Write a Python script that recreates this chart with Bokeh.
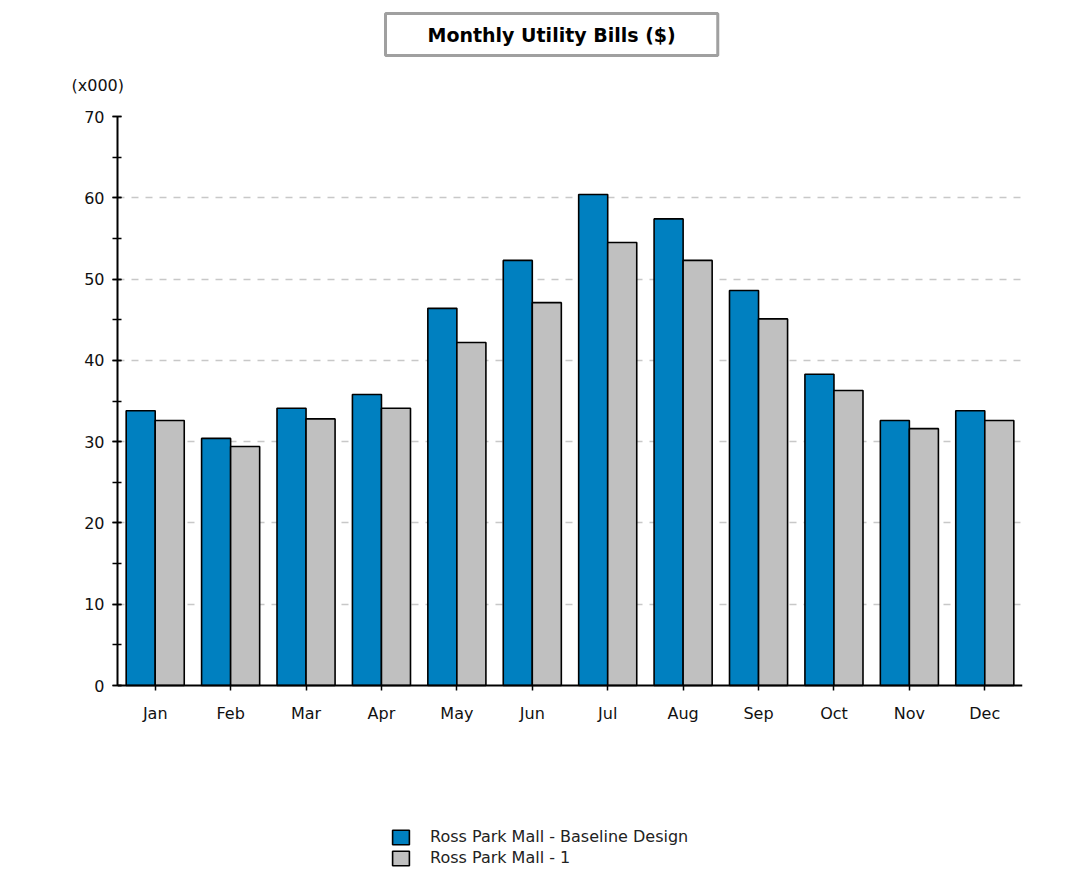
from bokeh.plotting import figure
from bokeh.models import (FactorRange, Range1d, SingleIntervalTicker, FixedTicker, Title,
                          Legend, LegendItem)
from bokeh.transform import dodge
from bokeh.embed import file_html
from bokeh.resources import INLINE

months = ["Jan", "Feb", "Mar", "Apr", "May", "Jun", "Jul", "Aug", "Sep", "Oct", "Nov", "Dec"]
baseline = [33.8, 30.4, 34.1, 35.8, 46.4, 52.3, 60.4, 57.4, 48.6, 38.3, 32.6, 33.8]
alt_1 = [32.6, 29.4, 32.8, 34.1, 42.2, 47.1, 54.5, 52.3, 45.1, 36.3, 31.6, 32.6]
series_names = ["Ross Park Mall - Baseline Design", "Ross Park Mall - 1"]
grid_values = [10, 20, 30, 40, 50, 60, 70]

FONT = "DejaVu Sans"
BLUE = "#0080C0"
GRAY = "#C0C0C0"

# the frame runs down to the bottom of the page so the legend can sit inside it;
# the value axis spans 0..70 over 569 px and the category axis is pinned at y = 0
Y_MAX = 70
PX_PER_UNIT = 569 / Y_MAX
Y_MIN = -186 / PX_PER_UNIT

p = figure(
    frame_width=905, frame_height=755,
    x_range=FactorRange(*months, range_padding=0),
    y_range=Range1d(Y_MIN, Y_MAX),
    output_backend="svg", toolbar_location=None,
    min_border_left=117, min_border_right=55,
    min_border_top=116, min_border_bottom=0,
)
p.outline_line_color = None
p.background_fill_color = "white"
p.border_fill_color = "white"

src = dict(month=months, baseline=baseline, alt=alt_1)
r1 = p.vbar(x=dodge("month", -0.1925, range=p.x_range), top="baseline", bottom=0, width=0.385,
            source=src, fill_color=BLUE, line_color="black", line_width=1.6)
r2 = p.vbar(x=dodge("month", 0.1925, range=p.x_range), top="alt", bottom=0, width=0.385,
            source=src, fill_color=GRAY, line_color="black", line_width=1.6)

# grid and axes
p.xgrid.grid_line_color = None
p.ygrid.grid_line_color = "#c8c8c8"
p.ygrid.grid_line_dash = "7 7"
p.ygrid.grid_line_width = 1.5
p.ygrid.ticker = FixedTicker(ticks=grid_values)
p.yaxis.ticker = SingleIntervalTicker(interval=10, num_minor_ticks=2)
p.yaxis.bounds = (0, Y_MAX)
p.xaxis.fixed_location = 0

for ax in (p.xaxis[0], p.yaxis[0]):
    ax.axis_line_color = "black"
    ax.axis_line_width = 2
    ax.major_tick_line_color = "black"
    ax.major_tick_line_width = 1.5
    ax.major_label_text_font = FONT
    ax.major_label_text_font_size = "16px"
    ax.major_label_text_color = "#111111"

p.yaxis.major_tick_out = 5
p.yaxis.major_tick_in = 4
p.yaxis.minor_tick_out = 5
p.yaxis.minor_tick_in = 4
p.yaxis.minor_tick_line_color = "black"
p.yaxis.minor_tick_line_width = 1.5
p.yaxis.major_label_standoff = 8

p.xaxis.major_tick_out = 5
p.xaxis.major_tick_in = 0
p.xaxis.major_label_standoff = 13

# units caption over the value axis
p.add_layout(Title(text="(x000)", align="left", offset=-46, standoff=40, vertical_align="top",
                   text_font=FONT, text_font_size="16px", text_font_style="normal",
                   text_color="#111111"), "above")

# boxed chart title
p.add_layout(Title(text="Monthly Utility Bills ($)", align="left", offset=268, standoff=0,
                   text_font=FONT, text_font_size="19px", text_font_style="bold",
                   text_color="black", background_fill_color="white",
                   border_line_color="#a0a0a0", border_line_width=3,
                   padding=(42, 10)), "above")

legend = Legend(
    items=[LegendItem(label=series_names[0], renderers=[r1]),
           LegendItem(label=series_names[1], renderers=[r2])],
    location=(273, 4), orientation="vertical",
    glyph_width=21, glyph_height=18, label_height=18, spacing=2,
    label_text_font=FONT, label_text_font_size="16px", label_text_color="#222222",
    label_standoff=19, padding=0, margin=0, border_line_color=None,
    background_fill_alpha=0,
)
p.add_layout(legend, "center")

open("out.html", "w").write(file_html(p, INLINE))
